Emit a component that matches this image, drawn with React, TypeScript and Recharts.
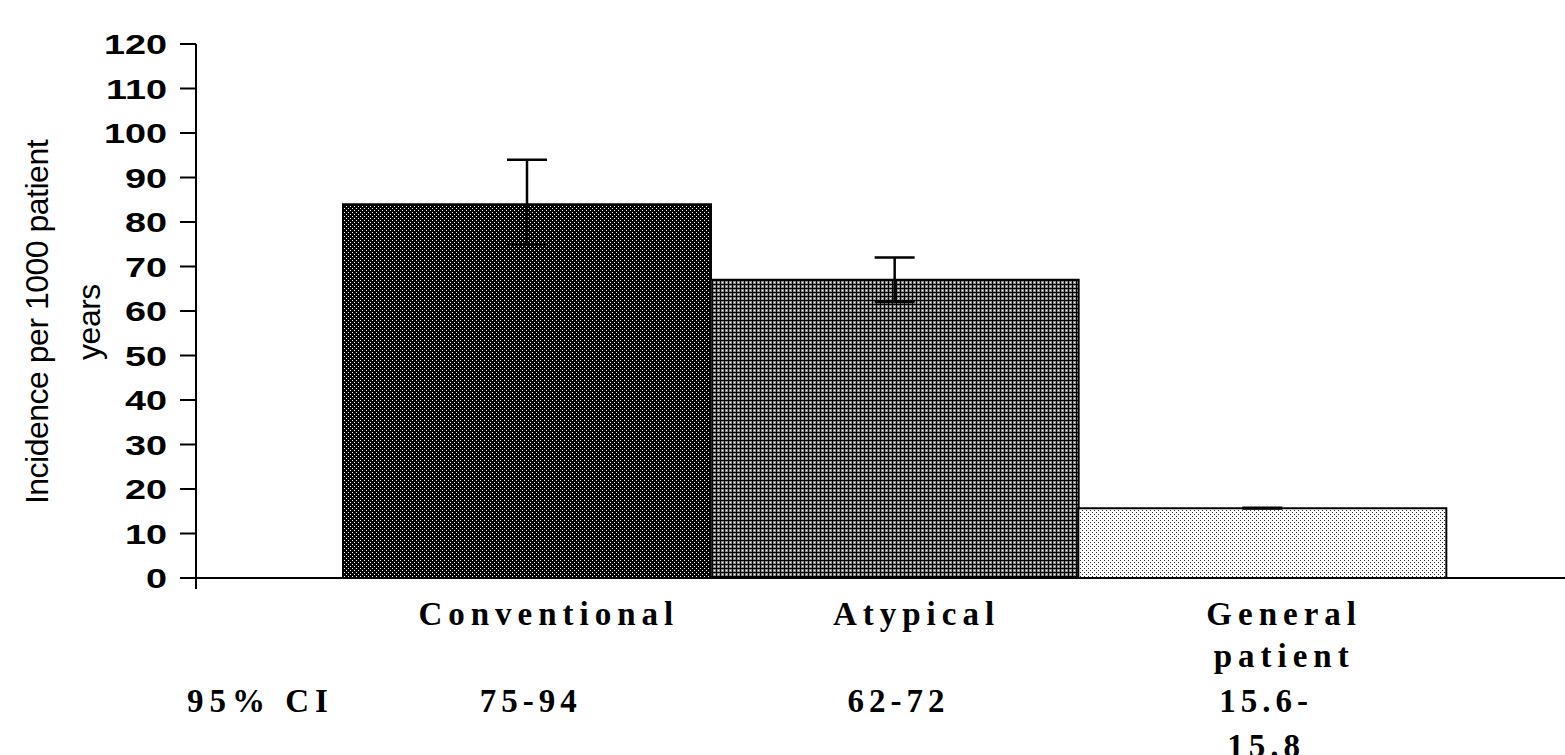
// Incidence per 1000 patient years by antipsychotic group, with 95% CI
import React from "react";
import { BarChart, Bar, XAxis, YAxis, ErrorBar, Cell, Customized } from "recharts";

const categories = ["Conventional", "Atypical", "General patient"];
const incidence = [84, 67, 15.7];
const ciLow = [75, 62, 15.6];
const ciHigh = [94, 72, 15.8];
const categoryLines = [["Conventional"], ["Atypical"], ["General", "patient"]];
const ciLines = [["75-94"], ["62-72"], ["15.6-", "15.8"]];
const yTicks = [0, 10, 20, 30, 40, 50, 60, 70, 80, 90, 100, 110, 120];

const data = categories.map((name, i) => ({
  name,
  value: incidence[i],
  err: [incidence[i] - ciLow[i], ciHigh[i] - incidence[i]],
}));

const fills = ["url(#patDark)", "url(#patMid)", "url(#patLight)"];
const serif = "'Liberation Serif', 'Times New Roman', serif";
const sans = "'Liberation Sans', Arial, sans-serif";

function CategoryTick(props: any) {
  const { x, y, payload } = props;
  const i = categories.indexOf(payload.value);
  const lines = categoryLines[i] || [];
  const ci = ciLines[i] || [];
  return (
    <g>
      <text x={x} y={y} textAnchor="middle" fontFamily={serif} fontWeight="bold" fontSize={33} letterSpacing={6} fill="#000">
        {lines.map((l, k) => (
          <tspan key={k} x={x + 22} dy={k === 0 ? 47 : 42}>{l}</tspan>
        ))}
      </text>
      <text x={x} y={y} textAnchor="middle" fontFamily={serif} fontWeight="bold" fontSize={33} letterSpacing={5} fill="#000">
        {ci.map((l, k) => (
          <tspan key={k} x={x + 4} dy={k === 0 ? 134 : 45}>{l}</tspan>
        ))}
      </text>
    </g>
  );
}

function ValueTick(props: any) {
  const { x, y, payload } = props;
  return (
    <text
      transform={`translate(${x},${y}) scale(1.35,1)`}
      textAnchor="end"
      dy="0.36em"
      fontFamily={sans}
      fontWeight="bold"
      fontSize={28}
      fill="#000"
    >
      {payload.value}
    </text>
  );
}

function Annotations() {
  return (
    <g>
      <line x1={196} y1={578} x2={196} y2={589} stroke="#000" strokeWidth={2} />
      <text transform="translate(48,322) rotate(-90)" textAnchor="middle" fontFamily={sans} fontSize={32} letterSpacing={-0.5} fill="#000">
        Incidence per 1000 patient
      </text>
      <text transform="translate(100,322) rotate(-90)" textAnchor="middle" fontFamily={sans} fontSize={32} letterSpacing={-0.5} fill="#000">
        years
      </text>
      <text x={187} y={712} fontFamily={serif} fontWeight="bold" fontSize={33} letterSpacing={6} fill="#000">
        95% CI
      </text>
    </g>
  );
}

export default function App() {
  return (
    <div style={{ position: "absolute", left: 0, top: 0, width: 1565, height: 755, background: "#fff" }}>
      <BarChart
        width={1565}
        height={755}
        data={data}
        margin={{ top: 44, right: 0, bottom: 0, left: 0 }}
        barCategoryGap={0}
        barGap={0}
      >
        <defs>
          <pattern id="patDark" patternUnits="userSpaceOnUse" width={4} height={4}>
            <rect width={4} height={4} fill="#000" />
            <rect x={0} y={0} width={1} height={1} fill="#fff" />
            <rect x={2} y={2} width={1} height={1} fill="#fff" />
          </pattern>
          <pattern id="patMid" patternUnits="userSpaceOnUse" width={4} height={4}>
            <rect width={4} height={4} fill="#888" />
            <rect x={0} y={0} width={4} height={1} fill="#000" />
            <rect x={0} y={0} width={1} height={4} fill="#000" />
            <rect x={2} y={2} width={1} height={1} fill="#fff" />
          </pattern>
          <pattern id="patLight" patternUnits="userSpaceOnUse" width={4} height={4}>
            <rect width={4} height={4} fill="#fff" />
            <rect x={0} y={0} width={1} height={1} fill="#333" />
            <rect x={2} y={2} width={1} height={1} fill="#333" />
          </pattern>
        </defs>
        <XAxis
          dataKey="name"
          height={177}
          interval={0}
          padding={{ left: 147, right: 119 }}
          tickLine={false}
          tickSize={0}
          tickMargin={0}
          axisLine={{ stroke: "#000", strokeWidth: 2 }}
          tick={<CategoryTick />}
        />
        <YAxis
          type="number"
          domain={[0, 120]}
          ticks={yTicks}
          interval={0}
          width={196}
          tickSize={16}
          tickMargin={13}
          axisLine={{ stroke: "#000", strokeWidth: 2 }}
          tickLine={{ stroke: "#000", strokeWidth: 2 }}
          tick={<ValueTick />}
        />
        <Bar dataKey="value" isAnimationActive={false} stroke="#000" strokeWidth={2}>
          {data.map((d, i) => (
            <Cell key={d.name} fill={fills[i]} />
          ))}
          <ErrorBar dataKey="err" direction="y" width={20} stroke="#000" strokeWidth={2.5} />
        </Bar>
        <Customized component={Annotations} />
      </BarChart>
    </div>
  );
}
